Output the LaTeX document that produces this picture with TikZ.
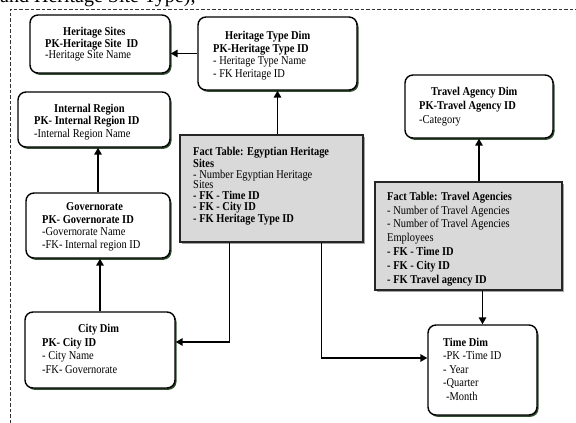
\documentclass[tikz,border=0pt]{standalone}
\usepackage{fontspec}
\setmainfont[FakeStretch=0.87]{Liberation Serif}
\newfontfamily\capfont{Liberation Serif}
\usetikzlibrary{arrows.meta,shadows}
\begin{document}
\begin{tikzpicture}[x=1pt,y=-1pt,
  rbox/.style={draw=black, line width=1.4pt, rounded corners=8pt, fill=white,
    drop shadow={shadow xshift=1.5pt, shadow yshift=-1.8pt, fill=black!65!green!40!black, opacity=0.8}},
  fbox/.style={draw=black!85, line width=1.3pt, fill=black!15,
    drop shadow={shadow xshift=2pt, shadow yshift=-2pt, fill=black!45, opacity=0.8}},
  txt/.style={anchor=north west, inner sep=0pt, align=left},
  arr/.style={line width=1.6pt, -{Triangle[length=7pt,width=7.5pt]}}
]
\useasboundingbox (0,0) rectangle (576,423);
% cut-off caption text at the top
\begin{scope}
\clip (0,0) rectangle (576,7);
\node[anchor=base west, inner sep=0pt, font=\capfont\fontsize{20}{24}\selectfont] (cap) at (0,2) {and Heritage Site Type);};
\end{scope}
% dashed frame
\draw[black!80, line width=0.6pt, dash pattern=on 3.5pt off 2pt] (10,423) -- (10,9) -- (576,9);

% boxes
\node[rbox, minimum width=140, minimum height=58] (hs) at (100,44) {};
\node[rbox, minimum width=159, minimum height=73] (ht) at (277.5,53.5) {};
\node[rbox, minimum width=152, minimum height=55] (ir) at (94,119.5) {};
\node[rbox, minimum width=144, minimum height=65] (gov) at (98,225.5) {};
\node[rbox, minimum width=150, minimum height=76] (city) at (100,350) {};
\node[fbox, minimum width=183, minimum height=107] (fe) at (271.5,188.5) {};
\node[fbox, minimum width=187, minimum height=108] (ft) at (468.5,236) {};
\node[rbox, minimum width=148, minimum height=63] (ta) at (479,106.5) {};
\node[rbox, minimum width=109, minimum height=90] (time) at (482.5,370) {};

% texts
\node[txt, font=\fontsize{12}{11.5}\selectfont] (hst) at (45,27.3)
 {\hspace*{18pt}\textbf{Heritage Sites}\\\textbf{PK-Heritage Site~ ID}\\-Heritage Site Name};
\node[txt, font=\fontsize{12}{12.7}\selectfont] (htt) at (213,30.8)
 {\hspace*{12pt}\textbf{Heritage Type Dim}\\\textbf{PK-Heritage Type ID}\\- Heritage Type Name\\- FK Heritage ID};
\node[txt, font=\fontsize{12}{12.5}\selectfont] (irt) at (34,103.8)
 {\hspace*{20pt}\textbf{Internal Region}\\\textbf{PK- Internal Region ID}\\-Internal Region Name};
\node[txt, font=\fontsize{12}{12.5}\selectfont] (govt) at (42,202.8)
 {\hspace*{24pt}\textbf{Governorate}\\\textbf{PK- Governorate ID}\\-Governorate Name\\-FK- Internal region ID};
\node[txt, font=\fontsize{12}{13.7}\selectfont] (cityt) at (42,323.8)
 {\hspace*{36pt}\textbf{City Dim}\\\textbf{PK- City ID}\\- City Name\\-FK- Governorate};
\node[txt, font=\fontsize{12}{10.8}\selectfont] (fet) at (193,146.8)
 {\textbf{Fact Table: Egyptian Heritage}\\\textbf{Sites}\\- Number Egyptian Heritage\\Sites\\\textbf{- FK - Time ID}\\\textbf{- FK - City ID}\\\textbf{- FK Heritage Type ID}};
\node[txt, font=\fontsize{12}{13.8}\selectfont] (ftt) at (387,191.8)
 {\textbf{Fact Table: Travel Agencies}\\- Number of Travel Agencies\\- Number of Travel Agencies\\Employees\\\textbf{- FK - Time ID}\\\textbf{- FK - City ID}\\\textbf{- FK Travel agency ID}};
\node[txt, font=\fontsize{12}{14}\selectfont] (tat) at (419,86.8)
 {\hspace*{12pt}\textbf{Travel Agency Dim}\\\textbf{PK-Travel Agency ID}\\-Category};
\node[txt, font=\fontsize{12}{13.5}\selectfont] (timet) at (443,337.8)
 {\textbf{Time Dim}\\-PK -Time ID\\- Year\\-Quarter\\\hspace*{3pt}-Month};

% connectors
\draw[arr] (ht.west) -- (ht.west -| hs.east);
\draw[arr] (gov.north) -- (gov.north |- ir.south);
\draw[arr] (city.north) -- (city.north |- gov.south);
\draw[arr] (ht.south |- fe.north) -- (ht.south);
\draw[arr] ([xshift=50pt]fe.south west) |- ([yshift=8pt]city.east);
\draw[arr] ([xshift=142pt]fe.south west) |- ([yshift=12pt]time.west);
\draw[arr] (ta.south |- ft.north) -- (ta.south);
\draw[arr] (time.north |- ft.south) -- (time.north);
\end{tikzpicture}
\end{document}
